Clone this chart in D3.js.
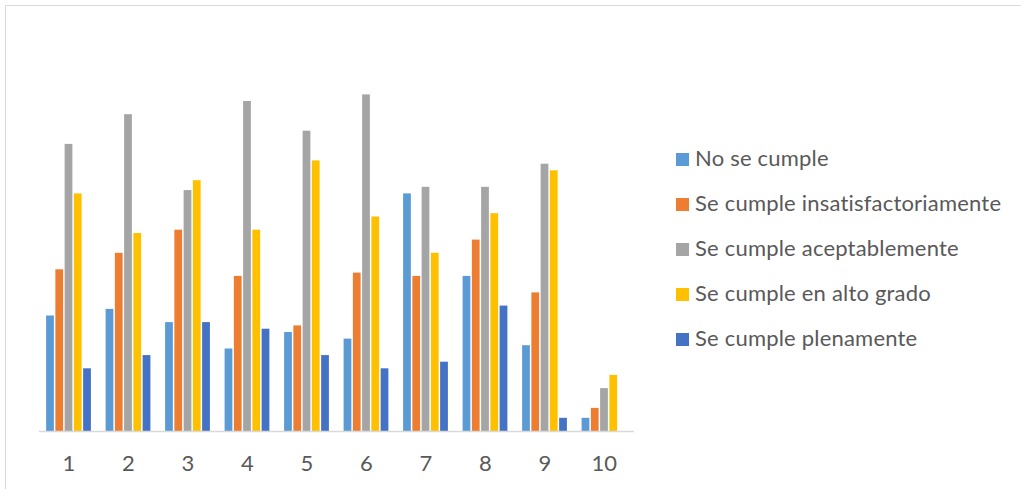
<!DOCTYPE html>
<html>
<head>
<meta charset="utf-8">
<script src="https://cdn.jsdelivr.net/npm/d3@7"></script>
<style>
  html, body { margin: 0; padding: 0; background: #ffffff; }
  svg { display: block; }
  text { font-family: Lato, "Open Sans", sans-serif; fill: #595959; }
</style>
</head>
<body>
<svg id="chart" width="1021" height="489"></svg>
<script>
// Criteria numbers along the x axis
const categories = ["1", "2", "3", "4", "5", "6", "7", "8", "9", "10"];

// Rating levels (legend order)
const seriesNames = [
  "No se cumple",
  "Se cumple insatisfactoriamente",
  "Se cumple aceptablemente",
  "Se cumple en alto grado",
  "Se cumple plenamente"
];

// Counts per rating level, one value per criterion
const noSeCumple        = [35, 37, 33, 25, 30, 28, 72, 47, 26, 4];
const insatisfactorio   = [49, 54, 61, 47, 32, 48, 47, 58, 42, 7];
const aceptable         = [87, 96, 73, 100, 91, 102, 74, 74, 81, 13];
const altoGrado         = [72, 60, 76, 61, 82, 65, 54, 66, 79, 17];
const plenamente        = [19, 23, 33, 31, 23, 19, 21, 38, 4, 0];

const seriesValues = [noSeCumple, insatisfactorio, aceptable, altoGrado, plenamente];
const colors = ["#5B9BD5", "#ED7D31", "#A5A5A5", "#FFC000", "#4472C4"];

const svg = d3.select("#chart");

// Outer frame: only the top and left edges fall inside the view
svg.append("path")
  .attr("d", "M5.5,489 V5.5 H1021")
  .attr("fill", "none")
  .attr("stroke", "#D9D9D9")
  .attr("stroke-width", 1);

const plot = { left: 39, right: 634, top: 35, bottom: 431 };

const x0 = d3.scaleBand()
  .domain(categories)
  .range([plot.left, plot.right])
  .paddingInner(0.222)
  .paddingOuter(0.111);

const x1 = d3.scaleBand()
  .domain(d3.range(seriesNames.length))
  .range([0, x0.bandwidth()]);

const y = d3.scaleLinear()
  .domain([0, 120])
  .range([plot.bottom, plot.top]);

// Bars
const groups = svg.append("g")
  .selectAll("g")
  .data(categories)
  .join("g")
  .attr("transform", d => `translate(${x0(d)},0)`);

groups.selectAll("rect")
  .data((d, i) => seriesValues.map((vals, s) => ({ s, v: vals[i] })))
  .join("rect")
  .filter(d => d.v > 0)
  .attr("x", d => x1(d.s) + 0.5)
  .attr("width", x1.bandwidth() - 1.5)
  .attr("y", d => y(d.v))
  .attr("height", d => y(0) - y(d.v))
  .attr("fill", d => colors[d.s]);

// Category axis
const xAxis = svg.append("g")
  .attr("transform", `translate(0,${plot.bottom})`)
  .call(d3.axisBottom(x0).tickSize(0).tickPadding(0).tickSizeOuter(0));
xAxis.select(".domain")
  .attr("stroke", "#D9D9D9")
  .attr("stroke-width", 1.5)
  .attr("d", `M${plot.left},0.5H${plot.right}`);
xAxis.selectAll(".tick text")
  .attr("y", 40)
  .attr("dy", null)
  .style("font-size", "22px")
  .style("font-family", "Lato, 'Open Sans', sans-serif")
  .attr("fill", "#595959");

// Legend
const legend = svg.append("g")
  .selectAll("g")
  .data(seriesNames)
  .join("g")
  .attr("transform", (d, i) => `translate(676,${166 + i * 45})`);

legend.append("rect")
  .attr("x", 0)
  .attr("y", -13)
  .attr("width", 13)
  .attr("height", 13)
  .attr("fill", (d, i) => colors[i]);

legend.append("text")
  .attr("x", 19)
  .attr("y", 0)
  .style("font-size", "22px")
  .style("letter-spacing", "0.2px")
  .text(d => d);
</script>
</body>
</html>
